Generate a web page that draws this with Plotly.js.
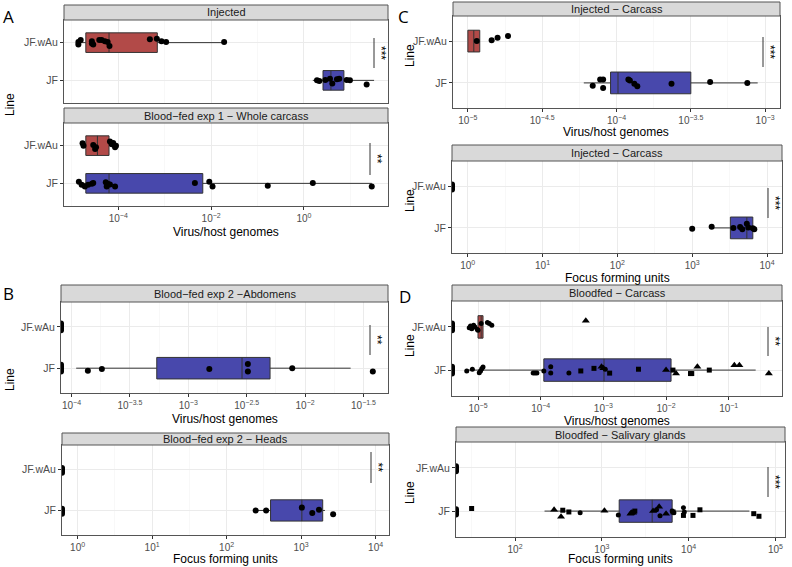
<!DOCTYPE html>
<html>
<head>
<meta charset="utf-8">
<script src="https://cdn.plot.ly/plotly-3.0.1.min.js"></script>
<style>
  html, body { margin: 0; padding: 0; background: #fff; }
  #chart { width: 792px; height: 567px; }
</style>
</head>
<body>
<div id="chart"></div>
<script>
// Box stats are [q1, median, q3, lower whisker, upper whisker].
// Dy = vertical jitter of each dot (category units), zeros sit on the left axis edge.

// A1 — Injected (virus/host genomes)
const a1WauX = [-4.86, -4.81, -4.86, -4.57, -4.57, -4.54, -4.41, -4.36, -4.29, -4.23, -4.19, -3.32, -3.17, -3.07, -2.97, -1.72];
const a1WauDy = [0.02, 0.07, -0.05, 0.04, -0.02, -0.05, 0.07, 0.07, 0.04, 0.02, -0.09, 0.09, 0.1, 0.04, 0.02, 0.02];
const a1WauBox = [-4.70, -4.20, -3.16, -4.86, -1.72];
const a1JfX = [0.28, 0.33, 0.46, 0.56, 0.61, 0.71, 0.76, 0.92, 0.99, 1.35];
const a1JfDy = [0, -0.02, 0.01, 0.04, -0.08, 0.03, 0.04, 0.01, 0, -0.11];
const a1JfBox = [0.41, 0.58, 0.86, 0.19, 1.51];

// A2 — Blood-fed exp 1, whole carcass
const a2WauX = [-4.77, -4.75, -4.54, -4.50, -4.48, -4.18, -4.14, -4.11, -4.07, -4.05];
const a2WauDy = [0.06, 0, 0.02, -0.09, -0.04, 0.11, 0.04, 0.07, -0.04, 0];
const a2WauBox = [-4.70, -4.45, -4.20, -4.77, -4.05];
const a2JfX = [-4.85, -4.79, -4.72, -4.65, -4.57, -4.54, -4.27, -4.25, -4.22, -4.18, -4.07, -2.35, -2.04, -1.97, -0.78, 0.19, 1.46];
const a2JfDy = [0.04, -0.04, -0.08, -0.04, -0.01, 0.01, 0.03, -0.08, -0.02, -0.03, -0.08, 0.01, 0.04, -0.08, -0.06, 0.01, -0.08];
const a2JfBox = [-4.70, -4.20, -2.18, -4.85, 1.46];

// B1 — Blood-fed exp 2, abdomens
const b1JfX = [-3.86, -3.74, -2.82, -2.49, -2.49, -2.11, -1.42];
const b1JfDy = [-0.06, -0.02, -0.02, 0.1, -0.08, 0, -0.08];
const b1JfBox = [-3.27, -2.54, -2.30, -3.96, -1.61];

// B2 — Blood-fed exp 2, heads (FFU)
const b2JfX = [2.39, 2.53, 3.01, 3.15, 3.24, 3.43];
const b2JfDy = [0, 0, 0.07, -0.06, 0.02, -0.09];
const b2JfBox = [2.59, 3.01, 3.29, 2.39, 3.32];

// C1 — Injected carcass (genomes)
const c1WauX = [-4.94, -4.84, -4.80, -4.73];
const c1WauDy = [0, 0.02, 0.08, 0.12];
const c1WauBox = [-5.00, -4.96, -4.92, -5.00, -4.92];
const c1JfX = [-4.16, -4.11, -4.09, -4.09, -3.92, -3.91, -3.88, -3.86, -3.63, -3.37, -3.12];
const c1JfDy = [-0.07, 0.08, 0.08, -0.12, 0.08, 0.06, -0.02, -0.08, -0.02, 0.02, 0];
const c1JfBox = [-4.04, -3.99, -3.50, -4.22, -3.05];

// C2 — Injected carcass (FFU)
const c2JfX = [3.00, 3.26, 3.55, 3.64, 3.67, 3.73, 3.75, 3.81, 3.83];
const c2JfDy = [-0.02, 0.03, 0, 0.02, -0.03, 0.1, 0.01, -0.01, -0.03];
const c2JfBox = [3.51, 3.73, 3.81, 3.26, 3.84];

// D1 — Bloodfed carcass (genomes), three experiments = three symbols
const d1WauCircX = [-5.14, -5.12, -5.10, -5.07, -5.05, -5.01, -5.00, -4.95, -4.85, -4.82, -4.78];
const d1WauCircDy = [-0.02, 0.02, -0.04, 0.04, 0, -0.06, -0.08, 0.08, 0.1, 0.08, 0.04];
const d1WauTriX = [-3.28];
const d1WauTriDy = [0.14];
const d1WauBox = [-5.00, -4.95, -4.92, -5.00, -4.92];
const d1JfCircX = [-5.18, -5.09, -4.98, -4.96, -4.94, -4.92, -4.12, -4.09, -4.06, -3.95, -3.84, -3.84, -3.55, -2.97];
const d1JfCircDy = [-0.02, 0.02, -0.06, -0.02, 0.03, 0.07, -0.07, -0.07, -0.07, -0.02, 0.08, -0.07, -0.07, 0.02];
const d1JfSqX = [-3.36, -3.15, -2.90, -2.44, -1.89, -1.61, -1.59, -1.31];
const d1JfSqDy = [-0.02, 0.04, -0.07, 0.02, 0, -0.08, -0.08, 0];
const d1JfTriX = [-3.03, -3.00, -2.00, -1.84, -1.50, -0.91, -0.83, -0.36];
const d1JfTriDy = [0.08, 0.04, 0, -0.08, 0.08, 0.11, 0.11, -0.08];
const d1JfBox = [-3.95, -2.99, -1.92, -5.18, -0.57];

// D2 — Bloodfed salivary glands (FFU)
const d2JfSqX = [1.50, 2.55, 2.62, 3.38, 3.82, 3.94, 4.05, 4.13, 4.75, 4.81];
const d2JfSqDy = [0.06, 0.02, -0.02, 0, -0.02, -0.1, -0.1, 0.03, -0.06, -0.12];
const d2JfTriX = [2.45, 2.53, 3.03, 3.33, 3.34, 3.36, 3.59, 3.66, 3.74];
const d2JfTriDy = [0.03, -0.13, 0.01, -0.06, -0.04, -0.04, 0, 0.1, -0.06];
const d2JfCircX = [2.75, 3.19, 3.36, 3.63, 3.67, 3.81, 3.83, 3.94, 3.95];
const d2JfCircDy = [-0.04, -0.09, -0.03, 0.03, -0.11, 0, -0.04, 0.08, -0.02];
const d2JfBox = [3.20, 3.58, 3.81, 2.34, 4.70];

// jitter for the zero-valued samples drawn on the axis edge
const zeroDy = [-0.08, -0.04, 0, 0.04, 0.08];

const lines = ['JF', 'JF.wAu'];
const W = 792, H = 567;
const RED = '#B24A48', BLUE = '#4848AC';
const FONT = 'Liberation Sans, Arial, sans-serif';
const TICK = 10, TITLE = 12;

const traces = [];
const shapes = [];
const annotations = [];
const layout = {
    width: W, height: H, autosize: false,
    margin: { l: 0, r: 0, t: 0, b: 0 },
    paper_bgcolor: '#fff', plot_bgcolor: '#fff',
    font: { family: FONT, color: '#000' },
    showlegend: false
};

const sup = v => '10<sup>' + (v < 0 ? '\u2212' + Math.abs(v) : v) + '</sup>';
const px = x => x / W;
const py = y => 1 - y / H;

function addPanel(n, rect, strip, title, range, major, minor, showLabels) {
    const id = n === 1 ? '' : String(n);
    layout['xaxis' + id] = {
        domain: [px(rect[0]), px(rect[1])], anchor: 'y' + id, range: range,
        tickmode: 'array', tickvals: major, ticktext: major.map(sup),
        showticklabels: showLabels, ticks: showLabels ? 'outside' : '', ticklen: 3,
        tickcolor: '#333', tickfont: { size: TICK, color: '#4D4D4D' },
        showgrid: true, gridcolor: '#EBEBEB', gridwidth: 1, zeroline: false,
        showline: true, mirror: true, linecolor: '#555', linewidth: 1,
        minor: { tickmode: 'array', tickvals: minor, showgrid: true, gridcolor: '#F3F3F3', gridwidth: 0.6, ticks: '' },
        fixedrange: true
    };
    layout['yaxis' + id] = {
        domain: [py(rect[3]), py(rect[2])], anchor: 'x' + id, range: [0.4, 2.6],
        tickmode: 'array', tickvals: [1, 2], ticktext: lines,
        ticks: 'outside', ticklen: 3, tickcolor: '#333',
        tickfont: { size: 10.5, color: '#4D4D4D' },
        showgrid: true, gridcolor: '#EBEBEB', zeroline: false,
        showline: true, mirror: true, linecolor: '#555', linewidth: 1,
        fixedrange: true
    };
    // facet strip
    shapes.push({
        type: 'rect', xref: 'paper', yref: 'paper',
        x0: px(rect[0]), x1: px(rect[1]), y0: py(strip[1]), y1: py(strip[0]),
        fillcolor: '#D9D9D9', line: { color: '#555', width: 1 }
    });
    annotations.push({
        xref: 'paper', yref: 'paper', x: px((rect[0] + rect[1]) / 2), y: py((strip[0] + strip[1]) / 2),
        text: title, showarrow: false, font: { size: 11, color: '#1A1A1A' },
        xanchor: 'center', yanchor: 'middle'
    });
    return id;
}

function box(id, stats, pos, color) {
    traces.push({
        type: 'box', orientation: 'h', y: [pos],
        q1: [stats[0]], median: [stats[1]], q3: [stats[2]],
        lowerfence: [stats[3]], upperfence: [stats[4]],
        width: 0.52, whiskerwidth: 0, boxpoints: false,
        fillcolor: color, line: { color: '#333', width: 1 },
        xaxis: 'x' + id, yaxis: 'y' + id, hoverinfo: 'skip'
    });
}

function dots(id, xs, dys, pos, symbol, size) {
    traces.push({
        type: 'scatter', mode: 'markers', x: xs, y: dys.map(d => pos + d),
        marker: { color: '#000', size: size || 6, symbol: symbol || 'circle' },
        xaxis: 'x' + id, yaxis: 'y' + id, hoverinfo: 'skip', cliponaxis: true
    });
}

function zeros(id, range, pos, count) {
    const dys = zeroDy.slice(0, count);
    dots(id, dys.map(() => range[0]), dys, pos, 'circle', 6);
}

function signif(x, y0, y1, stars) {
    shapes.push({
        type: 'line', xref: 'paper', yref: 'paper',
        x0: px(x), x1: px(x), y0: py(y0), y1: py(y1),
        line: { color: '#333', width: 1 }
    });
    annotations.push({
        xref: 'paper', yref: 'paper', x: px(x + 7), y: py((y0 + y1) / 2),
        text: stars, showarrow: false, textangle: 90,
        font: { size: 12, color: '#000' }, xanchor: 'center', yanchor: 'middle'
    });
}

function label(x, y, text, size, angle, family) {
    annotations.push({
        xref: 'paper', yref: 'paper', x: px(x), y: py(y), text: text,
        showarrow: false, textangle: angle || 0,
        font: { size: size, color: '#000', family: family || FONT }, xanchor: 'center', yanchor: 'middle'
    });
}

const LETTER = 'Open Sans, sans-serif';

// ---- A ----
const rA = [-5.17, 1.81];
let id = addPanel(1, [64, 388, 20, 103], [5, 20], 'Injected', rA, [-4, -2, 0], [-5, -3, -1, 1], false);
box(id, a1WauBox, 2, RED); box(id, a1JfBox, 1, BLUE);
dots(id, a1WauX, a1WauDy, 2); dots(id, a1JfX, a1JfDy, 1);
signif(374, 38, 68, '***');

id = addPanel(2, [64, 388, 123, 206], [108, 123], 'Blood\u2212fed exp 1 \u2212 Whole carcass', rA, [-4, -2, 0], [-5, -3, -1, 1], true);
box(id, a2WauBox, 2, RED); box(id, a2JfBox, 1, BLUE);
dots(id, a2WauX, a2WauDy, 2); dots(id, a2JfX, a2JfDy, 1);
signif(370, 143, 175, '**');
label(226, 232, 'Virus/host genomes', TITLE);
label(10, 105, 'Line', TITLE, -90);
label(8, 16, 'A', 17, 0, LETTER);

// ---- B ----
const rB1 = [-4.09, -1.29];
id = addPanel(3, [61, 388, 302, 393], [285, 302], 'Blood\u2212fed exp 2 \u2212Abdomens', rB1,
    [-4, -3.5, -3, -2.5, -2, -1.5], [-3.75, -3.25, -2.75, -2.25, -1.75], true);
box(id, b1JfBox, 1, BLUE);
zeros(id, rB1, 2, 5); zeros(id, rB1, 1, 5);
dots(id, b1JfX, b1JfDy, 1);
signif(370, 325, 355, '**');
label(225, 419, 'Virus/host genomes', TITLE);
label(10, 380, 'Line', TITLE, -90);
label(8, 293, 'B', 17, 0, LETTER);

const rB2 = [-0.21, 4.18];
id = addPanel(4, [62, 389, 445, 535], [433, 445], 'Blood\u2212fed exp 2 \u2212 Heads', rB2,
    [0, 1, 2, 3, 4], [0.5, 1.5, 2.5, 3.5], true);
box(id, b2JfBox, 1, BLUE);
zeros(id, rB2, 2, 4); zeros(id, rB2, 1, 4);
dots(id, b2JfX, b2JfDy, 1);
signif(371, 452, 483, '**');
label(225, 559, 'Focus forming units', TITLE);

// ---- C ----
const rC1 = [-5.1, -2.9];
id = addPanel(5, [453, 780, 16, 108], [2, 16], 'Injected \u2212 Carcass', rC1,
    [-5, -4.5, -4, -3.5, -3], [-4.75, -4.25, -3.75, -3.25], true);
box(id, c1WauBox, 2, RED); box(id, c1JfBox, 1, BLUE);
dots(id, c1WauX, c1WauDy, 2); dots(id, c1JfX, c1JfDy, 1);
signif(763, 37, 67, '***');
label(616, 132, 'Virus/host genomes', TITLE);
label(410, 55, 'Line', TITLE, -90);
label(404, 16, 'C', 17, 0, LETTER);

const rC2 = [-0.21, 4.2];
id = addPanel(6, [452, 782, 161, 253], [145, 161], 'Injected \u2212 Carcass', rC2,
    [0, 1, 2, 3, 4], [0.5, 1.5, 2.5, 3.5], true);
box(id, c2JfBox, 1, BLUE);
zeros(id, rC2, 2, 4);
dots(id, c2JfX, c2JfDy, 1);
signif(768, 188, 218, '***');
label(617, 278, 'Focus forming units', TITLE);
label(410, 200, 'Line', TITLE, -90);

// ---- D ----
const rD1 = [-5.415, -0.15];
id = addPanel(7, [452, 782, 301, 396], [285, 301], 'Bloodfed \u2212 Carcass', rD1,
    [-5, -4, -3, -2, -1], [-4.5, -3.5, -2.5, -1.5, -0.5], true);
box(id, d1WauBox, 2, RED); box(id, d1JfBox, 1, BLUE);
zeros(id, rD1, 2, 5); zeros(id, rD1, 1, 5);
dots(id, d1WauCircX, d1WauCircDy, 2, 'circle', 5);
dots(id, d1WauTriX, d1WauTriDy, 2, 'triangle-up', 7);
dots(id, d1JfCircX, d1JfCircDy, 1, 'circle', 5);
dots(id, d1JfSqX, d1JfSqDy, 1, 'square', 5);
dots(id, d1JfTriX, d1JfTriDy, 1, 'triangle-up', 7);
signif(768, 327, 356, '**');
label(617, 421, 'Virus/host genomes', TITLE);
label(410, 345, 'Line', TITLE, -90);
label(405, 296, 'D', 17, 0, LETTER);

const rD2 = [1.32, 5.11];
id = addPanel(8, [456, 785, 442, 537], [427, 442], 'Bloodfed \u2212 Salivary glands', rD2,
    [2, 3, 4, 5], [1.5, 2.5, 3.5, 4.5], true);
box(id, d2JfBox, 1, BLUE);
zeros(id, rD2, 2, 4); zeros(id, rD2, 1, 4);
dots(id, d2JfCircX, d2JfCircDy, 1, 'circle', 5);
dots(id, d2JfSqX, d2JfSqDy, 1, 'square', 5);
dots(id, d2JfTriX, d2JfTriDy, 1, 'triangle-up', 7);
signif(768, 467, 497, '***');
label(620, 559, 'Focus forming units', TITLE);
label(410, 492, 'Line', TITLE, -90);

layout.shapes = shapes;
layout.annotations = annotations;

Plotly.newPlot('chart', traces, layout, { staticPlot: true, displayModeBar: false });
</script>
</body>
</html>
